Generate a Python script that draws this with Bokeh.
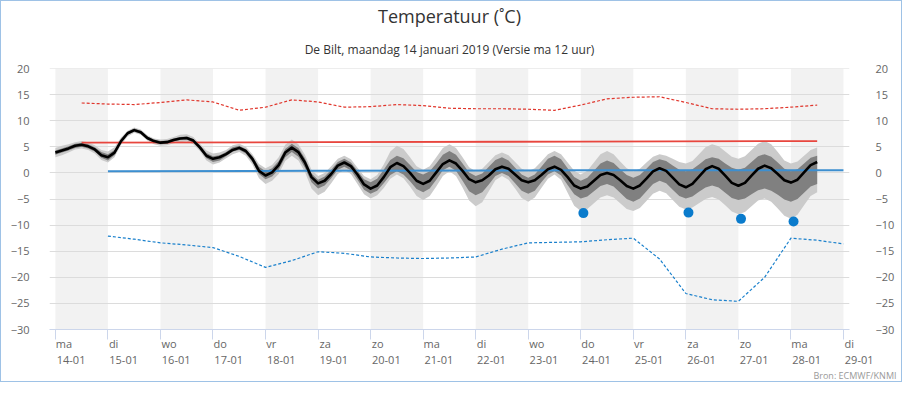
from bokeh.plotting import figure
from bokeh.models import (Range1d, LinearAxis, FixedTicker, BoxAnnotation, Title,
                          ColumnDataSource)
from bokeh.embed import file_html
from bokeh.resources import INLINE

FONT = "Open Sans"

# ---- data -------------------------------------------------------------
day_names = ["ma", "di", "wo", "do", "vr", "za", "zo", "ma", "di", "wo",
             "do", "vr", "za", "zo", "ma", "di"]
day_dates = ["14-01", "15-01", "16-01", "17-01", "18-01", "19-01", "20-01",
             "21-01", "22-01", "23-01", "24-01", "25-01", "26-01", "27-01",
             "28-01", "29-01"]
shaded_days = [0, 2, 4, 6, 8, 10, 12, 14]
y_ticks = [-30, -25, -20, -15, -10, -5, 0, 5, 10, 15, 20]

# 3-hourly ensemble plume, days since 14-01 00:00
t3 = [i * 0.125 for i in range(117)]
ens_mean = [3.9, 4.3, 4.7, 5.2, 5.4, 5.1, 4.5, 3.4, 3.0, 3.9,
            6.1, 7.6, 8.2, 7.8, 6.7, 6.1, 5.8, 5.9, 6.3, 6.6,
            6.7, 6.2, 4.9, 3.3, 2.7, 3.0, 3.6, 4.4, 4.8, 4.2,
            2.7, 0.4, -0.5, 0.1, 1.5, 3.9, 4.85, 4.0, 2.0, -0.8,
            -2.0, -1.5, -0.2, 1.4, 2.0, 1.3, -0.3, -2.2, -3.0, -2.4,
            -0.8, 1.1, 1.9, 1.3, 0.0, -1.5, -2.1, -1.5, 0.1, 1.7,
            2.4, 1.8, 0.4, -1.2, -1.8, -1.4, -0.5, 0.7, 1.2, 0.8,
            -0.3, -1.4, -1.8, -1.4, -0.4, 0.7, 1.2, 0.6, -0.8, -2.4,
            -3.0, -2.6, -1.5, -0.4, 0.0, -0.4, -1.4, -2.5, -3.0, -2.4,
            -1.1, 0.3, 0.9, 0.4, -0.9, -2.2, -2.75, -2.1, -0.7, 0.7,
            1.3, 0.8, -0.5, -1.9, -2.45, -1.9, -0.5, 0.8, 1.4, 0.9,
            -0.2, -1.4, -1.85, -1.3, 0.1, 1.5, 2.1]
outer_hi = [4.8, 5.2, 5.5, 5.9, 6.1, 5.9, 5.3, 4.4, 4.1, 4.9,
            6.8, 8.1, 8.7, 8.3, 7.2, 6.6, 6.4, 6.5, 6.9, 7.3,
            7.4, 6.9, 5.6, 4.3, 3.7, 3.9, 4.4, 5.3, 5.6, 5.0,
            3.6, 1.7, 0.9, 1.5, 3.0, 5.4, 6.4, 5.5, 3.5, 0.6,
            -0.6, 0.0, 1.3, 2.7, 3.3, 2.6, 1.0, -0.6, -1.2, -0.4,
            1.6, 4.1, 5.2, 4.6, 3.0, 1.3, 0.6, 1.3, 3.0, 4.8,
            5.5, 4.8, 3.0, 1.1, 0.3, 0.8, 2.1, 3.4, 3.9, 3.4,
            2.1, 0.8, 0.3, 0.9, 2.2, 3.6, 4.2, 3.6, 2.0, 0.4,
            -0.3, 0.4, 2.0, 3.6, 4.2, 3.6, 2.2, 0.9, 0.3, 0.8,
            2.0, 3.1, 3.6, 3.3, 2.7, 2.1, 1.8, 2.3, 3.6, 4.9,
            5.5, 5.1, 4.1, 3.1, 2.7, 3.2, 4.4, 5.6, 6.1, 5.5,
            4.0, 2.4, 1.8, 2.2, 3.3, 4.4, 4.85]
outer_lo = [3.0, 3.4, 3.9, 4.5, 4.7, 4.4, 3.7, 2.5, 2.0, 3.0,
            5.4, 7.0, 7.7, 7.3, 6.2, 5.5, 5.2, 5.3, 5.7, 5.9,
            6.0, 5.5, 4.2, 2.4, 1.6, 2.0, 2.8, 3.6, 4.0, 3.3,
            1.6, -1.0, -2.1, -1.5, -0.2, 2.3, 3.3, 2.4, 0.2, -3.0,
            -4.3, -3.6, -2.0, -0.2, 0.6, -0.2, -2.1, -4.1, -4.9, -4.3,
            -2.9, -1.1, -0.3, -1.0, -2.6, -4.4, -5.2, -4.4, -2.6, -0.6,
            0.3, -0.6, -2.8, -5.3, -6.4, -5.6, -3.5, -1.4, -0.6, -1.3,
            -3.0, -4.8, -5.5, -4.7, -2.9, -1.1, -0.3, -1.3, -3.8, -6.3,
            -7.3, -6.9, -5.8, -4.7, -4.3, -4.7, -5.8, -6.9, -7.3, -6.7,
            -5.4, -4.0, -3.4, -3.9, -5.2, -6.5, -7.0, -6.6, -5.8, -5.0,
            -4.6, -5.1, -6.2, -7.4, -7.9, -7.5, -6.4, -5.3, -4.9, -5.5,
            -6.8, -8.2, -8.8, -8.0, -6.2, -4.4, -3.7]
inner_hi = [4.3, 4.7, 5.1, 5.6, 5.8, 5.5, 4.9, 4.0, 3.6, 4.4,
            6.4, 7.9, 8.5, 8.1, 7.0, 6.4, 6.1, 6.2, 6.6, 6.9,
            7.0, 6.5, 5.3, 3.8, 3.2, 3.4, 4.0, 4.9, 5.2, 4.6,
            3.2, 1.2, 0.3, 0.9, 2.3, 4.6, 5.6, 4.8, 2.8, -0.1,
            -1.3, -0.7, 0.6, 2.1, 2.7, 2.0, 0.4, -1.2, -1.8, -1.1,
            0.6, 2.5, 3.3, 2.8, 1.5, 0.2, -0.3, 0.3, 1.8, 3.5,
            4.2, 3.5, 1.8, 0.1, -0.6, -0.1, 1.2, 2.5, 3.0, 2.4,
            1.0, -0.3, -0.9, -0.3, 1.2, 2.7, 3.3, 2.6, 0.9, -0.8,
            -1.5, -0.9, 0.4, 1.8, 2.4, 1.9, 0.7, -0.4, -0.9, -0.4,
            0.8, 2.1, 2.6, 2.3, 1.4, 0.6, 0.3, 0.7, 1.6, 2.6,
            3.0, 2.7, 1.8, 1.0, 0.6, 1.0, 2.1, 3.2, 3.6, 3.1,
            2.0, 0.8, 0.3, 0.7, 1.8, 2.9, 3.3]
inner_lo = [3.5, 3.9, 4.3, 4.8, 5.0, 4.7, 4.1, 2.9, 2.4, 3.4,
            5.8, 7.3, 7.9, 7.5, 6.4, 5.8, 5.5, 5.6, 6.0, 6.3,
            6.4, 5.8, 4.5, 2.8, 2.1, 2.4, 3.2, 4.1, 4.4, 3.7,
            2.1, -0.2, -1.2, -0.7, 0.6, 3.0, 4.0, 3.1, 1.0, -1.8,
            -3.0, -2.4, -1.0, 0.6, 1.2, 0.5, -1.3, -3.2, -4.0, -3.4,
            -2.0, -0.4, 0.3, -0.3, -1.6, -3.1, -3.7, -3.0, -1.3, 0.5,
            1.2, 0.4, -1.5, -3.5, -4.3, -3.7, -2.2, -0.6, 0.0, -0.6,
            -2.0, -3.4, -4.0, -3.4, -1.8, -0.3, 0.3, -0.5, -2.3, -4.1,
            -4.9, -4.5, -3.5, -2.5, -2.1, -2.6, -3.8, -5.0, -5.5, -4.9,
            -3.5, -2.1, -1.5, -2.0, -3.2, -4.4, -4.9, -4.5, -3.6, -2.8,
            -2.4, -2.8, -3.8, -4.8, -5.2, -4.9, -4.1, -3.3, -3.0, -3.4,
            -4.2, -5.1, -5.5, -5.0, -3.8, -2.6, -2.1]

# extremes (12-hourly)
ext_max_t = [0.5 + i * 0.5 for i in range(29)]
ext_max = [13.4, 13.2, 13.1, 13.5, 14.0, 13.6, 12.0, 12.6, 14.0, 13.6,
           12.6, 12.7, 13.1, 12.9, 12.4, 12.3, 12.3, 12.2, 12.0, 13.0,
           14.2, 14.5, 14.6, 13.5, 12.3, 12.2, 12.3, 12.6, 13.0]
ext_min_t = [1.0 + i * 0.5 for i in range(29)]
ext_min = [-12.1, -12.7, -13.4, -13.8, -14.3, -16.0, -18.1, -16.8, -15.1, -15.4,
           -16.1, -16.3, -16.4, -16.3, -16.1, -14.6, -13.4, -13.3, -13.2, -12.8,
           -12.5, -16.5, -23.1, -24.3, -24.6, -20.0, -12.5, -12.9, -13.6]

# climate normals
norm_max_t = [0.5, 5.0, 10.0, 14.5]
norm_max = [5.8, 5.9, 6.0, 6.1]
norm_min_t = [1.0, 5.0, 10.0, 15.0]
norm_min = [0.3, 0.4, 0.5, 0.5]

# marked minima
dots_t = [10.05, 12.05, 13.05, 14.05]
dots_v = [-7.7, -7.6, -8.8, -9.3]

# ---- layout -------------------------------------------------------------
X0, X1 = -0.112, 15.115
NBSP = "\u00a0"
# padding (in no-break spaces) so that each centred label starts just
# right of its tick, like the original left-aligned labels
NAME_PAD = {"ma": 6, "di": 4, "wo": 6, "do": 5, "vr": 4, "za": 5, "zo": 5}
DATE_PAD = 11

p = figure(width=902, height=382, output_backend="svg", toolbar_location=None,
           x_range=Range1d(X0, X1), y_range=Range1d(-30, 20.01),
           min_border_left=48, min_border_right=54, min_border_top=67,
           min_border_bottom=54)
p.styles = {"border": "1px solid #9ec2e6"}
p.outline_line_color = None
p.background_fill_color = "white"
p.border_fill_color = "white"

p.title.text = "Temperatuur (˚C)"
p.title.align = "center"
p.title.offset = 3
p.title.text_font = FONT
p.title.text_font_size = "18px"
p.title.text_font_style = "normal"
p.title.text_color = "#333333"
p.title.standoff = 0

sub = Title(text="De Bilt, maandag 14 januari 2019 (Versie ma 12 uur)",
            align="center", offset=3, text_font=FONT, text_font_size="12px",
            text_font_style="normal", text_color="#333333", standoff=22)
p.add_layout(sub, "above")

for d in shaded_days:
    p.add_layout(BoxAnnotation(left=d, right=d + 1, fill_color="#f2f2f2",
                               fill_alpha=1.0, line_color=None, level="image"))

src = ColumnDataSource(dict(t=t3, mean=ens_mean, ohi=outer_hi, olo=outer_lo,
                            ihi=inner_hi, ilo=inner_lo))
p.varea(x="t", y1="olo", y2="ohi", source=src, fill_color="#cbcbcb")
p.varea(x="t", y1="ilo", y2="ihi", source=src, fill_color="#808080")

p.line(norm_max_t, norm_max, line_color="#e8463e", line_width=1.8)
p.line(norm_min_t, norm_min, line_color="#3d8fd0", line_width=2)
p.line(ext_max_t, ext_max, line_color="#e0362c", line_width=1.2, line_dash="3 2")
p.line(ext_min_t, ext_min, line_color="#1a80cc", line_width=1.2, line_dash="3 2")
p.line("t", "mean", source=src, line_color="black", line_width=2.6,
       line_join="round")
p.scatter(dots_t, dots_v, size=10, fill_color="#0a7bcc", line_color=None)

# grid & y axes
p.xgrid.visible = False
p.ygrid.ticker = FixedTicker(ticks=y_ticks)
p.ygrid.grid_line_color = "#dcdcdc"

p.yaxis[0].ticker = FixedTicker(ticks=y_ticks)
right = LinearAxis(ticker=FixedTicker(ticks=y_ticks))
p.add_layout(right, "right")
for ax in p.yaxis:
    ax.axis_line_color = None
    ax.major_tick_line_color = None
    ax.minor_tick_line_color = None
    ax.major_label_text_font = FONT
    ax.major_label_text_font_size = "11px"
    ax.major_label_text_color = "#666666"
p.yaxis[0].major_label_standoff = 14
right.major_label_standoff = 20

# x axis: ticks at day boundaries, two-line labels
day_ticks = list(range(len(day_names)))
xa = p.xaxis[0]
xa.ticker = FixedTicker(ticks=day_ticks)
xa.major_label_overrides = {
    i: NBSP * NAME_PAD[n] + n + "\n" + NBSP * DATE_PAD + d
    for i, (n, d) in enumerate(zip(day_names, day_dates))}
xa.axis_line_color = "#ccd6eb"
xa.major_tick_line_color = "#ccd6eb"
xa.major_tick_out = 10
xa.major_tick_in = 0
xa.minor_tick_line_color = None
xa.major_label_standoff = -4
xa.major_label_text_font = FONT
xa.major_label_text_font_size = "11px"
xa.major_label_text_color = "#666666"
xa.major_label_text_align = "center"
xa.major_label_text_line_height = 1.1

credit = Title(text="Bron: ECMWF/KNMI", align="right", offset=-47,
               text_font=FONT, text_font_size="9px", text_font_style="normal",
               text_color="#999999", standoff=-8)
p.add_layout(credit, "below")

open("out.html", "w").write(file_html(p, INLINE))
